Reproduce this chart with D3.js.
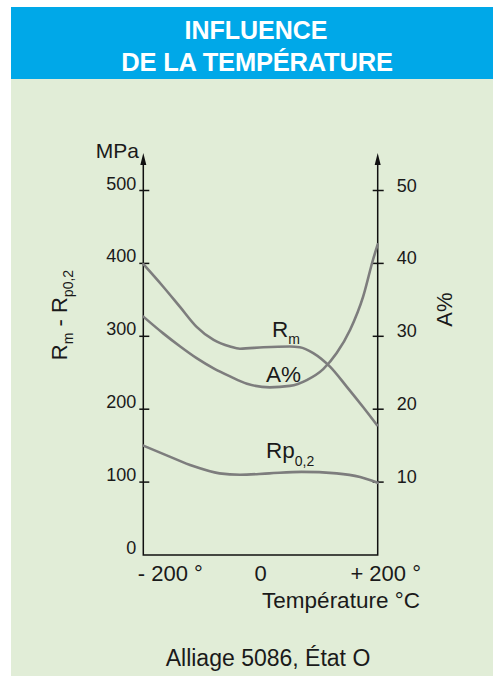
<!DOCTYPE html>
<meta charset="utf-8">
<title>Influence de la température</title>
<style>
body { margin: 0; background: #fff; }
svg { display: block; font-family: "Liberation Sans", Arial, sans-serif; }
.curve { fill: none; stroke: #7d7d7d; stroke-width: 2.6; stroke-linecap: round; }
.axis { stroke: #111; stroke-width: 1.5; fill: none; }
text { fill: #1a1a1a; }
</style>
<body>
<svg id="chart" width="493" height="676"></svg>
<script src="https://cdn.jsdelivr.net/npm/d3@7"></script>
<script>

// Values (temperature in °C, strength in MPa, elongation in %)
var rmTemp  = [-200, -166, -137, -109, -80, -52, -35, 5, 50, 67, 90, 119, 147, 175, 199];
var rmVal   = [399, 368, 340, 313, 295, 286, 283, 285, 286, 285, 277, 258, 231, 203, 178];

var aTemp   = [-200, -166, -137, -109, -80, -52, -23, 16, 50, 79, 107, 130, 153, 175, 192, 200];
var aVal    = [32.7, 30.4, 28.6, 27, 25.6, 24.5, 23.5, 23, 23.2, 24, 25.5, 27.7, 30.9, 35.4, 40.5, 42.6];

var rpTemp  = [-200, -155, -115, -70, -35, 15, 70, 130, 170, 200];
var rpVal   = [150, 135, 122, 112, 110, 112, 114, 112, 107, 99];

var leftTicks  = [0, 100, 200, 300, 400, 500];
var rightTicks = [10, 20, 30, 40, 50];
var xTicks     = [-200, 0, 200];
var xTickLabels = ["- 200 °", "0", "+ 200 °"];

var svg = d3.select("#chart");

// Background panels
svg.append("rect").attr("x", 11).attr("y", 79).attr("width", 482).attr("height", 597).attr("fill", "#e1edd7");
svg.append("rect").attr("x", 11).attr("y", 7).attr("width", 482).attr("height", 72).attr("fill", "#00a8e8");

svg.append("text").attr("x", 256).attr("y", 39).attr("text-anchor", "middle")
  .style("font-size", "25px").style("font-weight", "bold").style("fill", "#fff")
  .text("INFLUENCE");
svg.append("text").attr("x", 257).attr("y", 71).attr("text-anchor", "middle")
  .style("font-size", "25.5px").style("font-weight", "bold").style("fill", "#fff")
  .style("letter-spacing", "-0.2px")
  .text("DE LA TEMPÉRATURE");

// Scales
var x = d3.scaleLinear().domain([-200, 200]).range([143.3, 377.7]);
var y = d3.scaleLinear().domain([0, 500]).range([555, 190.5]);
var yA = d3.scaleLinear().domain([0, 50]).range([555, 190.5]);

// Axes frame
var g = svg.append("g");
g.append("path").attr("class", "axis")
  .attr("d", "M" + x(-200) + "," + 162 + "V" + y(0) + "H" + x(200) + "V" + 162);

// arrows
[x(-200), x(200)].forEach(function(ax) {
  g.append("path").attr("fill", "#111")
    .attr("d", "M" + (ax - 3) + ",165 L" + ax + ",153 L" + (ax + 3) + ",165 Z");
});

// left ticks
leftTicks.forEach(function(v) {
  if (v > 0) {
    g.append("line").attr("class", "axis")
      .attr("x1", x(-200) - 4).attr("x2", x(-200) + 6).attr("y1", y(v)).attr("y2", y(v));
  }
  g.append("text").attr("x", x(-200) - 7).attr("y", y(v) - 1)
    .attr("text-anchor", "end").style("font-size", "18px").text(v);
});

// right ticks
rightTicks.forEach(function(v) {
  g.append("line").attr("class", "axis")
    .attr("x1", x(200) - 5).attr("x2", x(200) + 6).attr("y1", yA(v)).attr("y2", yA(v));
  g.append("text").attr("x", x(200) + 19).attr("y", yA(v) + 1)
    .attr("text-anchor", "start").style("font-size", "18px").text(v);
});

// x tick labels
var xOff = [27, 0, 8];
xTicks.forEach(function(v, i) {
  g.append("text").attr("x", x(v) + xOff[i]).attr("y", 581)
    .attr("text-anchor", "middle").style("font-size", "22px").text(xTickLabels[i]);
});

g.append("text").attr("x", 341).attr("y", 608).attr("text-anchor", "middle")
  .style("font-size", "22.5px").text("Température °C");

g.append("text").attr("x", 139).attr("y", 158).attr("text-anchor", "end")
  .style("font-size", "21px").text("MPa");

// left axis title
var lt = g.append("text").attr("transform", "translate(66.5,315) rotate(-90)")
  .attr("text-anchor", "middle").style("font-size", "22px");
lt.append("tspan").text("R");
lt.append("tspan").attr("dy", 6).style("font-size", "14px").text("m");
lt.append("tspan").attr("dy", -6).text(" - R");
lt.append("tspan").attr("dy", 6).style("font-size", "14px").text("p0,2");

g.append("text").attr("transform", "translate(452,309.5) rotate(-90)")
  .attr("text-anchor", "middle").style("font-size", "22px").text("A%");

// curves
var line = d3.line().curve(d3.curveMonotoneX);
g.append("path").attr("class", "curve")
  .attr("d", line(rmTemp.map(function(t, i) { return [x(t), y(rmVal[i])]; })));
g.append("path").attr("class", "curve")
  .attr("d", line(aTemp.map(function(t, i) { return [x(t), yA(aVal[i])]; })));
g.append("path").attr("class", "curve")
  .attr("d", line(rpTemp.map(function(t, i) { return [x(t), y(rpVal[i])]; })));

// curve labels
var rm = g.append("text").attr("x", 272).attr("y", 337).style("font-size", "22.5px");
rm.append("tspan").text("R");
rm.append("tspan").attr("dy", 7).style("font-size", "14px").text("m");

g.append("text").attr("x", 266).attr("y", 382).style("font-size", "22.5px").text("A%");

var rp = g.append("text").attr("x", 266).attr("y", 458).style("font-size", "22.5px");
rp.append("tspan").text("Rp");
rp.append("tspan").attr("dy", 8).style("font-size", "14px").text("0,2");

svg.append("text").attr("x", 268).attr("y", 666).attr("text-anchor", "middle")
  .style("font-size", "23px").text("Alliage 5086, État O");
</script>
</body>
